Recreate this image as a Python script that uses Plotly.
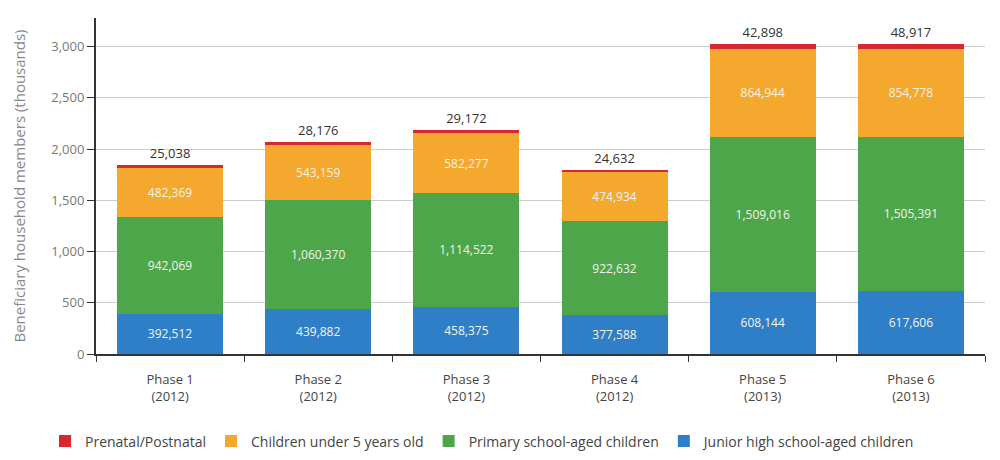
import plotly.graph_objects as go

phases = ["Phase 1<br>(2012)", "Phase 2<br>(2012)", "Phase 3<br>(2012)",
          "Phase 4<br>(2012)", "Phase 5<br>(2013)", "Phase 6<br>(2013)"]

junior_high = [392512, 439882, 458375, 377588, 608144, 617606]
primary = [942069, 1060370, 1114522, 922632, 1509016, 1505391]
under_five = [482369, 543159, 582277, 474934, 864944, 854778]
prenatal = [25038, 28176, 29172, 24632, 42898, 48917]

series = [
    ("Junior high school-aged children", junior_high, "#2f7fc8"),
    ("Primary school-aged children", primary, "#4da74a"),
    ("Children under 5 years old", under_five, "#f5a82e"),
    ("Prenatal/Postnatal", prenatal, "#d9272e"),
]

fig = go.Figure()
for name, vals, color in series:
    is_top = name == "Prenatal/Postnatal"
    fig.add_trace(go.Bar(
        x=phases,
        y=[v / 1000 for v in vals],
        name=name,
        marker=dict(color=color, line=dict(width=0)),
        text=[f"{v:,}" for v in vals],
        texttemplate="%{text}",
        textposition="outside" if is_top else "inside",
        insidetextanchor="middle",
        textangle=0,
        textfont=dict(family="Open Sans, sans-serif",
                      size=13 if is_top else 12,
                      color="#333333" if is_top else "#f4f4ea"),
        cliponaxis=False,
        hoverinfo="name+y",
    ))

fig.update_layout(
    barmode="stack",
    bargap=0.285,
    width=1000,
    height=460,
    margin=dict(l=96, r=15, t=18, b=106, autoexpand=False),
    plot_bgcolor="white",
    paper_bgcolor="white",
    font=dict(family="Open Sans, sans-serif", color="#555555", size=12),
    legend=dict(
        orientation="h",
        traceorder="reversed",
        xref="container", x=0.045, xanchor="left",
        yref="container", y=0.075, yanchor="top",
        font=dict(family="Open Sans, sans-serif", size=14, color="#444444"),
        itemwidth=30,
        tracegroupgap=0,
    ),
    showlegend=True,
)

fig.update_xaxes(
    type="category",
    automargin=False,
    showline=True, linecolor="#333333", linewidth=2,
    ticks="outside", tickson="boundaries", ticklen=6, tickcolor="#333333",
    ticklabelstandoff=12,
    tickfont=dict(family="Open Sans, sans-serif", size=13, color="#444444"),
    showgrid=False,
)
fig.update_yaxes(
    range=[0, 3280],
    automargin=False,
    tickvals=[0, 500, 1000, 1500, 2000, 2500, 3000],
    tickformat=",",
    showline=True, linecolor="#333333", linewidth=2,
    ticks="outside", ticklen=7, tickcolor="#333333",
    showgrid=True, gridcolor="#cccccc", gridwidth=1,
    zeroline=False,
    tickfont=dict(family="Open Sans, sans-serif", size=13, color="#777777"),
    title=dict(text="Beneficiary household members (thousands)",
               font=dict(family="Open Sans, sans-serif", size=15, color="#888888"),
               standoff=22),
)

fig.write_html("out.html")
